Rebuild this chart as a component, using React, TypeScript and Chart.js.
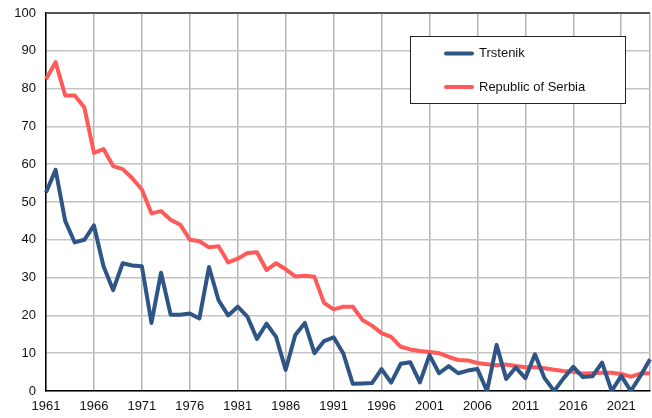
import React, { useEffect, useRef } from "react";
import { Chart, registerables } from "chart.js";

Chart.register(...registerables);

const years = [
  "1961", "1962", "1963", "1964", "1965", "1966", "1967", "1968", "1969", "1970",
  "1971", "1972", "1973", "1974", "1975", "1976", "1977", "1978", "1979", "1980",
  "1981", "1982", "1983", "1984", "1985", "1986", "1987", "1988", "1989", "1990",
  "1991", "1992", "1993", "1994", "1995", "1996", "1997", "1998", "1999", "2000",
  "2001", "2002", "2003", "2004", "2005", "2006", "2007", "2008", "2009", "2010",
  "2011", "2012", "2013", "2014", "2015", "2016", "2017", "2018", "2019", "2020",
  "2021", "2022", "2023", "2024",
];

const trstenik = [
  52.5, 58.5, 45, 39.3, 40, 43.8, 33, 26.7, 33.8, 33.2,
  33, 18, 31.3, 20.2, 20.2, 20.5, 19.2, 32.8, 24, 20,
  22.3, 19.7, 13.8, 17.8, 14.3, 5.6, 14.8, 18, 10, 13.2,
  14.2, 10, 1.9, 2, 2.1, 5.8, 2.2, 7.2, 7.6, 2.3,
  9.5, 4.7, 6.6, 4.7, 5.4, 5.8, 0, 12.2, 3.2, 6.2,
  3.4, 9.7, 3.4, 0, 3.4, 6.4, 3.7, 3.9, 7.5, 0,
  4.0, 0, 4.0, 8.4,
];

const serbia = [
  82.5, 87, 78.2, 78.2, 75, 63, 64, 59.5, 58.7, 56.3,
  53.3, 47, 47.6, 45.3, 44, 40, 39.6, 38, 38.3, 34,
  35, 36.5, 36.7, 32, 33.8, 32.2, 30.3, 30.5, 30.2, 23.3,
  21.6, 22.3, 22.3, 18.8, 17.3, 15.3, 14.3, 11.7, 11.0, 10.6,
  10.3, 10.0, 9.0, 8.2, 8.1, 7.4, 7.1, 6.8, 7.0, 6.6,
  6.3, 6.3, 6.0, 5.6, 5.3, 5.1, 4.6, 4.7, 4.8, 4.8,
  4.5, 3.8, 4.6, 4.7,
];

const seriesNames = ["Trstenik", "Republic of Serbia"];
const seriesColors = ["#2E5585", "#FF5A5A"];
const yTicks = [0, 10, 20, 30, 40, 50, 60, 70, 80, 90, 100];

const FONT = '"Liberation Sans", Arial, sans-serif';

const frameAndLegend = {
  id: "frameAndLegend",
  afterDraw(chart: any) {
    const { ctx, chartArea } = chart;
    ctx.save();
    ctx.strokeStyle = "#555555";
    ctx.lineWidth = 2;
    ctx.beginPath();
    ctx.moveTo(chartArea.left, chartArea.top);
    ctx.lineTo(chartArea.right, chartArea.top);
    ctx.stroke();

    const bx = 410.5, by = 36.5, bw = 215, bh = 67;
    ctx.fillStyle = "#FFFFFF";
    ctx.fillRect(bx, by, bw, bh);
    ctx.strokeStyle = "#222222";
    ctx.lineWidth = 1;
    ctx.strokeRect(bx, by, bw, bh);
    const rows = [53.5, 87];
    chart.data.datasets.forEach((ds: any, i: number) => {
      const y = rows[i];
      ctx.strokeStyle = ds.borderColor;
      ctx.lineWidth = 4;
      ctx.lineCap = "round";
      ctx.beginPath();
      ctx.moveTo(446, y);
      ctx.lineTo(472, y);
      ctx.stroke();
      ctx.fillStyle = "#111111";
      ctx.font = `13px ${FONT}`;
      ctx.textBaseline = "middle";
      ctx.textAlign = "left";
      ctx.fillText(ds.label, 479, y);
    });
    ctx.restore();
  },
};

export default function App() {
  const ref = useRef<HTMLCanvasElement | null>(null);

  useEffect(() => {
    if (!ref.current) return;
    const chart = new Chart(ref.current, {
      type: "line",
      data: {
        labels: years,
        datasets: [
          {
            label: seriesNames[0],
            data: trstenik,
            borderColor: seriesColors[0],
            backgroundColor: seriesColors[0],
            borderWidth: 4,
            pointRadius: 0,
            tension: 0,
            borderJoinStyle: "round",
          },
          {
            label: seriesNames[1],
            data: serbia,
            borderColor: seriesColors[1],
            backgroundColor: seriesColors[1],
            borderWidth: 4,
            pointRadius: 0,
            tension: 0,
            borderJoinStyle: "round",
          },
        ],
      },
      options: {
        responsive: false,
        animation: false,
        layout: { padding: { top: 13, right: 2, left: 0, bottom: 0 } },
        plugins: {
          legend: { display: false },
          tooltip: { enabled: false },
        },
        scales: {
          x: {
            type: "category",
            grid: {
              drawTicks: false,
              lineWidth: 1.5,
              color: (c: any) =>
                c.index % 5 === 0 || c.index === years.length - 1 ? "#B5B5B5" : "rgba(0,0,0,0)",
            },
            border: { color: "#000000", width: 1.5 },
            ticks: {
              autoSkip: false,
              maxRotation: 0,
              minRotation: 0,
              padding: 8,
              color: "#111111",
              font: { family: FONT, size: 13 },
              callback: (_v: any, i: number) => (i % 5 === 0 ? years[i] : ""),
            },
            afterFit: (s: any) => {
              s.height = 27;
              s.paddingLeft = 0;
              s.paddingRight = 0;
            },
          },
          y: {
            min: 0,
            max: 100,
            afterBuildTicks: (s: any) => {
              s.ticks = yTicks.map((v) => ({ value: v }));
            },
            grid: { drawTicks: false, lineWidth: 1.5, color: "#C4C4C4" },
            border: { color: "#000000", width: 1.5 },
            ticks: {
              padding: 10,
              color: "#111111",
              font: { family: FONT, size: 13 },
            },
            afterFit: (s: any) => {
              s.width = 46;
              s.paddingTop = 0;
              s.paddingBottom = 0;
            },
          },
        },
      },
      plugins: [frameAndLegend],
    });
    return () => chart.destroy();
  }, []);

  return (
    <div style={{ position: "fixed", left: 0, top: 0, width: 652, height: 418, background: "#fff" }}>
      <canvas ref={ref} width={652} height={418} style={{ display: "block" }} />
    </div>
  );
}
